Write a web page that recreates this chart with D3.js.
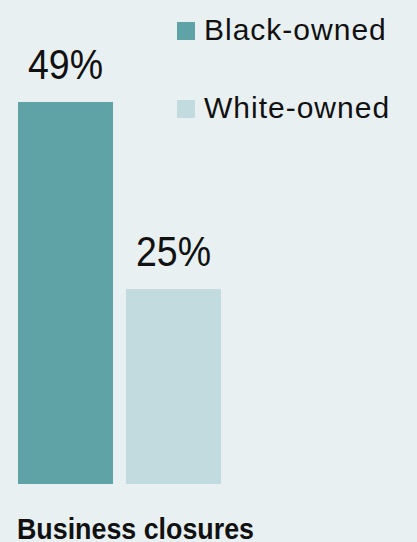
<!DOCTYPE html>
<html>
<head>
<meta charset="utf-8">
<script src="https://cdn.jsdelivr.net/npm/d3@7"></script>
<style>
  html, body { margin: 0; padding: 0; background: #e8f0f2; }
  svg { display: block; }
</style>
</head>
<body>
<svg id="chart"></svg>
<script>
// data
const groups = ["Black-owned", "White-owned"]
const closures = [49, 25]
const labels = ["49%", "25%"]
const colors = ["#5fa3a7", "#c1dbdf"]
const title = "Business closures"

let width = 417, height = 542
let svg = d3.select("#chart").attr("width", width).attr("height", height)

svg.append("rect").attr("width", width).attr("height", height).attr("fill", "#e8f0f2")

let x = d3.scaleBand().domain(groups).range([18, 221]).paddingInner(0.12).paddingOuter(0),
    y = d3.scaleLinear().domain([0, d3.max(closures)]).range([484, 102])

let rows = groups.map((g, i) => ({ group: g, value: closures[i], label: labels[i], color: colors[i] }))

svg.selectAll("rect.bar").data(rows)
    .enter().append("rect")
    .attr("class", "bar")
    .attr("x", d => x(d.group))
    .attr("y", d => y(d.value))
    .attr("width", x.bandwidth())
    .attr("height", d => y(0) - y(d.value))
    .attr("fill", d => d.color)

// value labels above the bars
svg.selectAll("text.val").data(rows)
    .enter().append("text")
    .attr("class", "val")
    .attr("x", d => x(d.group) + x.bandwidth() / 2)
    .attr("y", d => y(d.value) - 23)
    .attr("text-anchor", "middle")
    .attr("font-family", "Liberation Sans, Arial, sans-serif")
    .attr("font-size", 42)
    .attr("textLength", 75)
    .attr("lengthAdjust", "spacingAndGlyphs")
    .attr("fill", "#111")
    .text(d => d.label)

// legend
let legend = svg.selectAll("g.legend").data(rows)
    .enter().append("g")
    .attr("class", "legend")
    .attr("transform", (d, i) => "translate(177," + (22 + i * 78) + ")")

legend.append("rect").attr("width", 18).attr("height", 18).attr("fill", d => d.color)
legend.append("text")
    .attr("x", 27)
    .attr("y", 18)
    .attr("font-family", "Liberation Sans, Arial, sans-serif")
    .attr("font-size", 30)
    .attr("letter-spacing", 1)
    .attr("fill", "#111")
    .text(d => d.group)

svg.append("text")
    .attr("x", 17)
    .attr("y", 539)
    .attr("font-family", "Liberation Sans, Arial, sans-serif")
    .attr("font-size", 30)
    .attr("font-weight", "bold")
    .attr("textLength", 237)
    .attr("lengthAdjust", "spacingAndGlyphs")
    .attr("fill", "#111")
    .text(title)
</script>
</body>
</html>
